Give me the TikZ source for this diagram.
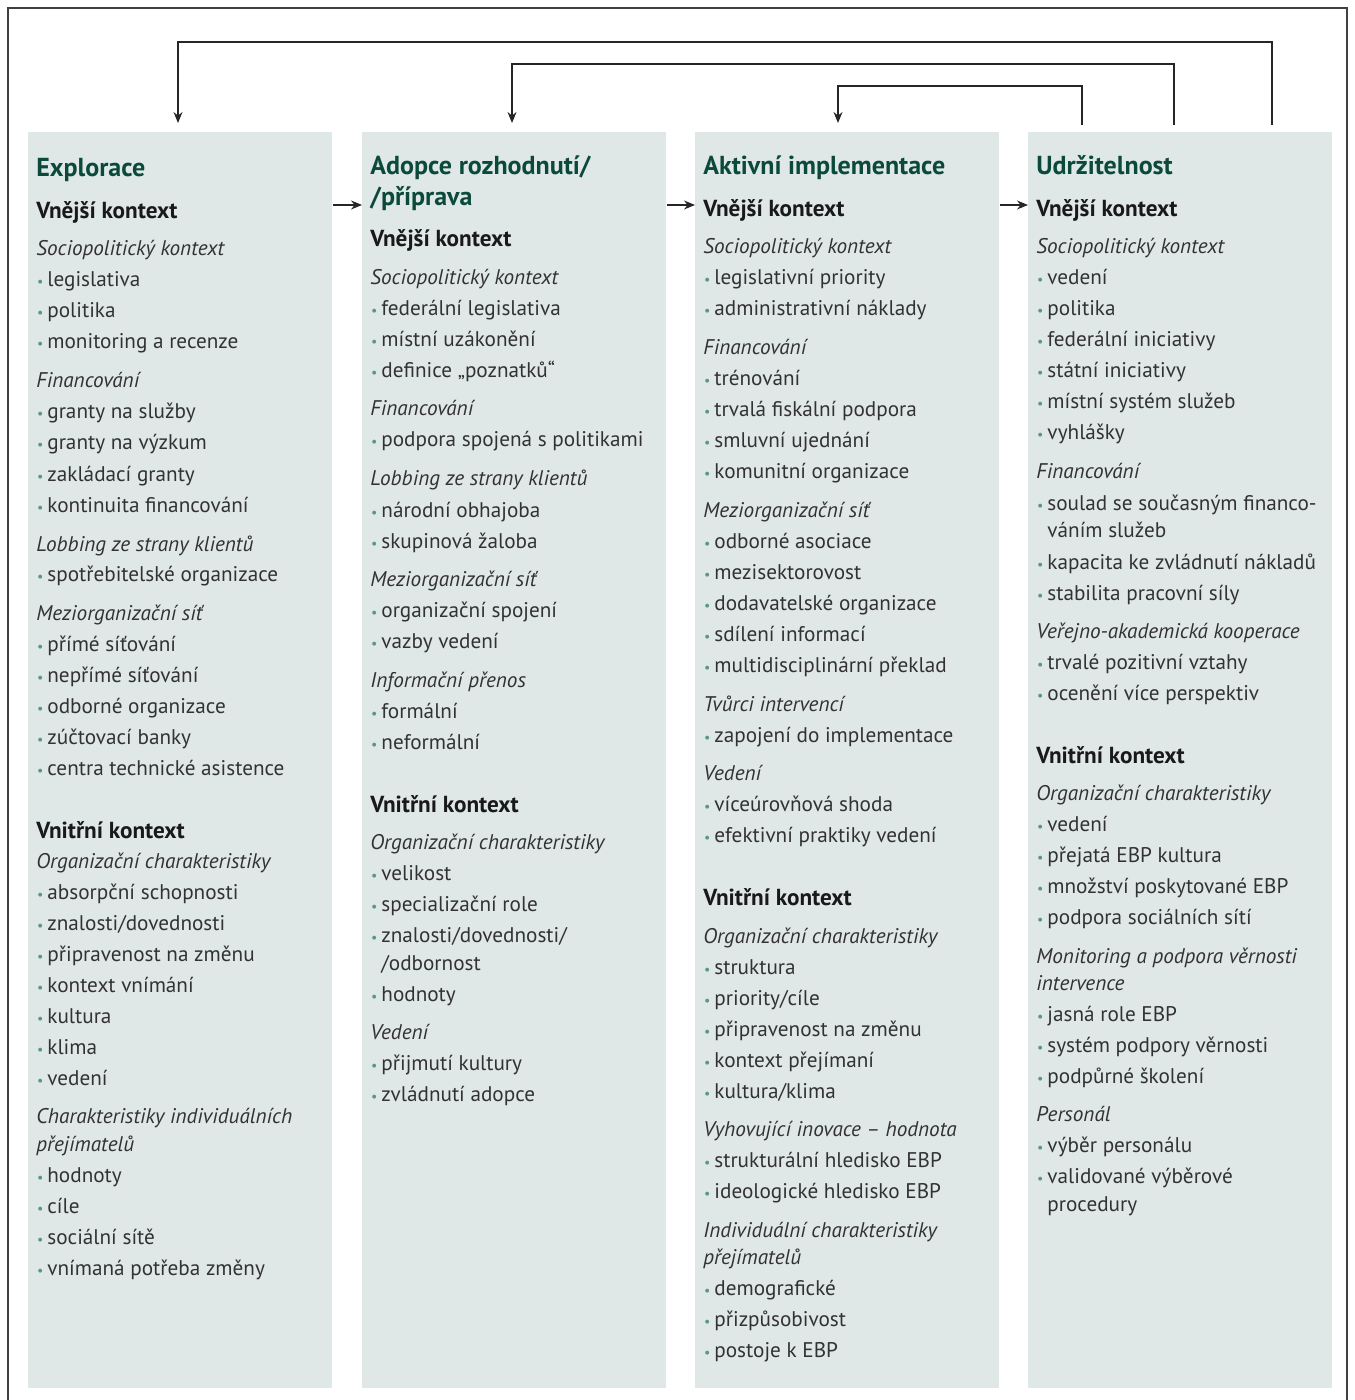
\documentclass[tikz,border=0pt]{standalone}
\usepackage{fontspec}
\setmainfont{PT Sans}
\usetikzlibrary{arrows.meta,calc}

\definecolor{boxfill}{RGB}{223,232,230}
\definecolor{phasegreen}{RGB}{11,74,58}
\definecolor{bulletteal}{RGB}{90,150,135}
\definecolor{bodytext}{RGB}{50,50,50}

\tikzset{
  phasebox/.style={fill=boxfill, draw=none, anchor=north west, inner sep=0pt,
    minimum width=152pt, minimum height=628pt},
  txtline/.style={anchor=mid west, inner sep=0pt, yshift=-1.5pt, text=bodytext,
    font=\fontsize{10.6}{12}\selectfont},
  ttl/.style={txtline, yshift=-1pt, text=phasegreen, font=\fontsize{13}{15}\selectfont\bfseries},
  sec/.style={txtline, yshift=-0.5pt, text=black!90, font=\fontsize{11.6}{13}\selectfont\bfseries},
  grp/.style={txtline, font=\fontsize{10.6}{12}\selectfont\itshape},
  itm/.style={txtline, xshift=5.5pt,
    execute at begin node={\llap{\textcolor{bulletteal}{\fontsize{7}{7}\selectfont\textbullet}\hspace{2pt}}}},
  cnt/.style={txtline, xshift=5.5pt},
  flow/.style={-{Stealth[length=5.5pt,width=4.5pt]}, line width=0.6pt, draw=black!85}
}

\begin{document}
\begin{tikzpicture}[x=0.5pt,y=-0.5pt]
\path[use as bounding box] (0,0) rectangle (1354,1400);
\draw[line width=0.8pt, draw=black!75] (8,8) rectangle (1347,1420);

% the four phases
\node[phasebox] (expl) at (28,132) {};
\node[phasebox] (adop) at (362,132) {};
\node[phasebox] (impl) at (695,132) {};
\node[phasebox] (udrz) at (1028,132) {};

% forward arrows
\foreach \a/\b in {expl/adop,adop/impl,impl/udrz}
  \draw[flow] ($(\a.north east)+(0,73)$) -- ($(\b.north west)+(0,73)$);

% feedback arrows
\draw[flow] ($(udrz.north west)+(244,-7)$) -- ++(0,-83) -| ($(expl.north west)+(150,-9)$);
\draw[flow] ($(udrz.north west)+(146,-7)$) -- ++(0,-61) -| ($(adop.north west)+(150,-9)$);
\draw[flow] ($(udrz.north west)+(54,-7)$) -- ++(0,-39) -| ($(impl.north west)+(143,-9)$);

% Explorace
\foreach \y/\kind/\txt in {
  167/ttl/Explorace,
  210/sec/Vnější kontext,
  248/grp/Sociopolitický kontext,
  279/itm/legislativa,
  310/itm/politika,
  341/itm/monitoring a recenze,
  380/grp/Financování,
  411/itm/granty na služby,
  442/itm/granty na výzkum,
  473/itm/zakládací granty,
  504/itm/kontinuita financování,
  543/grp/Lobbing ze strany klientů,
  573/itm/spotřebitelské organizace,
  612/grp/Meziorganizační síť,
  643/itm/přímé síťování,
  674/itm/nepřímé síťování,
  705/itm/odborné organizace,
  736/itm/zúčtovací banky,
  767/itm/centra technické asistence,
  829/sec/Vnitřní kontext,
  860/grp/Organizační charakteristiky,
  891/itm/absorpční schopnosti,
  922/itm/{znalosti/dovednosti},
  953/itm/připravenost na změnu,
  984/itm/kontext vnímání,
  1015/itm/kultura,
  1046/itm/klima,
  1077/itm/vedení,
  1115/grp/Charakteristiky individuálních,
  1143/grp/přejímatelů,
  1174/itm/hodnoty,
  1205/itm/cíle,
  1236/itm/sociální sítě,
  1267/itm/vnímaná potřeba změny}
  \node[\kind] (ex-\y) at (36,\y) {\txt};

% Adopce rozhodnuti / priprava
\foreach \y/\kind/\txt in {
  165/ttl/{Adopce rozhodnutí/},
  196/ttl/{/příprava},
  238/sec/Vnější kontext,
  277/grp/Sociopolitický kontext,
  308/itm/federální legislativa,
  339/itm/místní uzákonění,
  370/itm/definice „poznatků“,
  408/grp/Financování,
  439/itm/podpora spojená s politikami,
  478/grp/Lobbing ze strany klientů,
  509/itm/národní obhajoba,
  540/itm/skupinová žaloba,
  578/grp/Meziorganizační síť,
  609/itm/organizační spojení,
  640/itm/vazby vedení,
  679/grp/Informační přenos,
  710/itm/formální,
  741/itm/neformální,
  803/sec/Vnitřní kontext,
  841/grp/Organizační charakteristiky,
  872/itm/velikost,
  903/itm/specializační role,
  934/itm/{znalosti/dovednosti/},
  962/cnt/{/odbornost},
  993/itm/hodnoty,
  1031/grp/Vedení,
  1062/itm/přijmutí kultury,
  1093/itm/zvládnutí adopce}
  \node[\kind] (ad-\y) at (370,\y) {\txt};

% Aktivni implementace
\foreach \y/\kind/\txt in {
  165/ttl/Aktivní implementace,
  208/sec/Vnější kontext,
  246/grp/Sociopolitický kontext,
  277/itm/legislativní priority,
  308/itm/administrativní náklady,
  347/grp/Financování,
  378/itm/trénování,
  409/itm/trvalá fiskální podpora,
  440/itm/smluvní ujednání,
  471/itm/komunitní organizace,
  509/grp/Meziorganizační síť,
  540/itm/odborné asociace,
  571/itm/mezisektorovost,
  602/itm/dodavatelské organizace,
  633/itm/sdílení informací,
  664/itm/multidisciplinární překlad,
  703/grp/Tvůrci intervencí,
  734/itm/zapojení do implementace,
  772/grp/Vedení,
  803/itm/víceúrovňová shoda,
  834/itm/efektivní praktiky vedení,
  896/sec/Vnitřní kontext,
  935/grp/Organizační charakteristiky,
  966/itm/struktura,
  997/itm/{priority/cíle},
  1028/itm/připravenost na změnu,
  1059/itm/kontext přejímaní,
  1090/itm/{kultura/klima},
  1128/grp/Vyhovující inovace – hodnota,
  1159/itm/strukturální hledisko EBP,
  1190/itm/ideologické hledisko EBP,
  1229/grp/Individuální charakteristiky,
  1256/grp/přejímatelů,
  1287/itm/demografické,
  1318/itm/přizpůsobivost,
  1349/itm/postoje k EBP}
  \node[\kind] (im-\y) at (703,\y) {\txt};

% Udrzitelnost
\foreach \y/\kind/\txt in {
  165/ttl/Udržitelnost,
  208/sec/Vnější kontext,
  246/grp/Sociopolitický kontext,
  277/itm/vedení,
  308/itm/politika,
  339/itm/federální iniciativy,
  370/itm/státní iniciativy,
  401/itm/místní systém služeb,
  432/itm/vyhlášky,
  471/grp/Financování,
  502/itm/soulad se současným financo-,
  530/cnt/váním služeb,
  561/itm/kapacita ke zvládnutí nákladů,
  592/itm/stabilita pracovní síly,
  630/grp/Veřejno-akademická kooperace,
  661/itm/trvalé pozitivní vztahy,
  692/itm/ocenění více perspektiv,
  754/sec/Vnitřní kontext,
  792/grp/Organizační charakteristiky,
  823/itm/vedení,
  854/itm/přejatá EBP kultura,
  885/itm/množství poskytované EBP,
  916/itm/podpora sociálních sítí,
  955/grp/Monitoring a podpora věrnosti,
  982/grp/intervence,
  1013/itm/jasná role EBP,
  1044/itm/systém podpory věrnosti,
  1075/itm/podpůrné školení,
  1113/grp/Personál,
  1144/itm/výběr personálu,
  1175/itm/validované výběrové,
  1203/cnt/procedury}
  \node[\kind] (ud-\y) at (1036,\y) {\txt};
\end{tikzpicture}
\end{document}
